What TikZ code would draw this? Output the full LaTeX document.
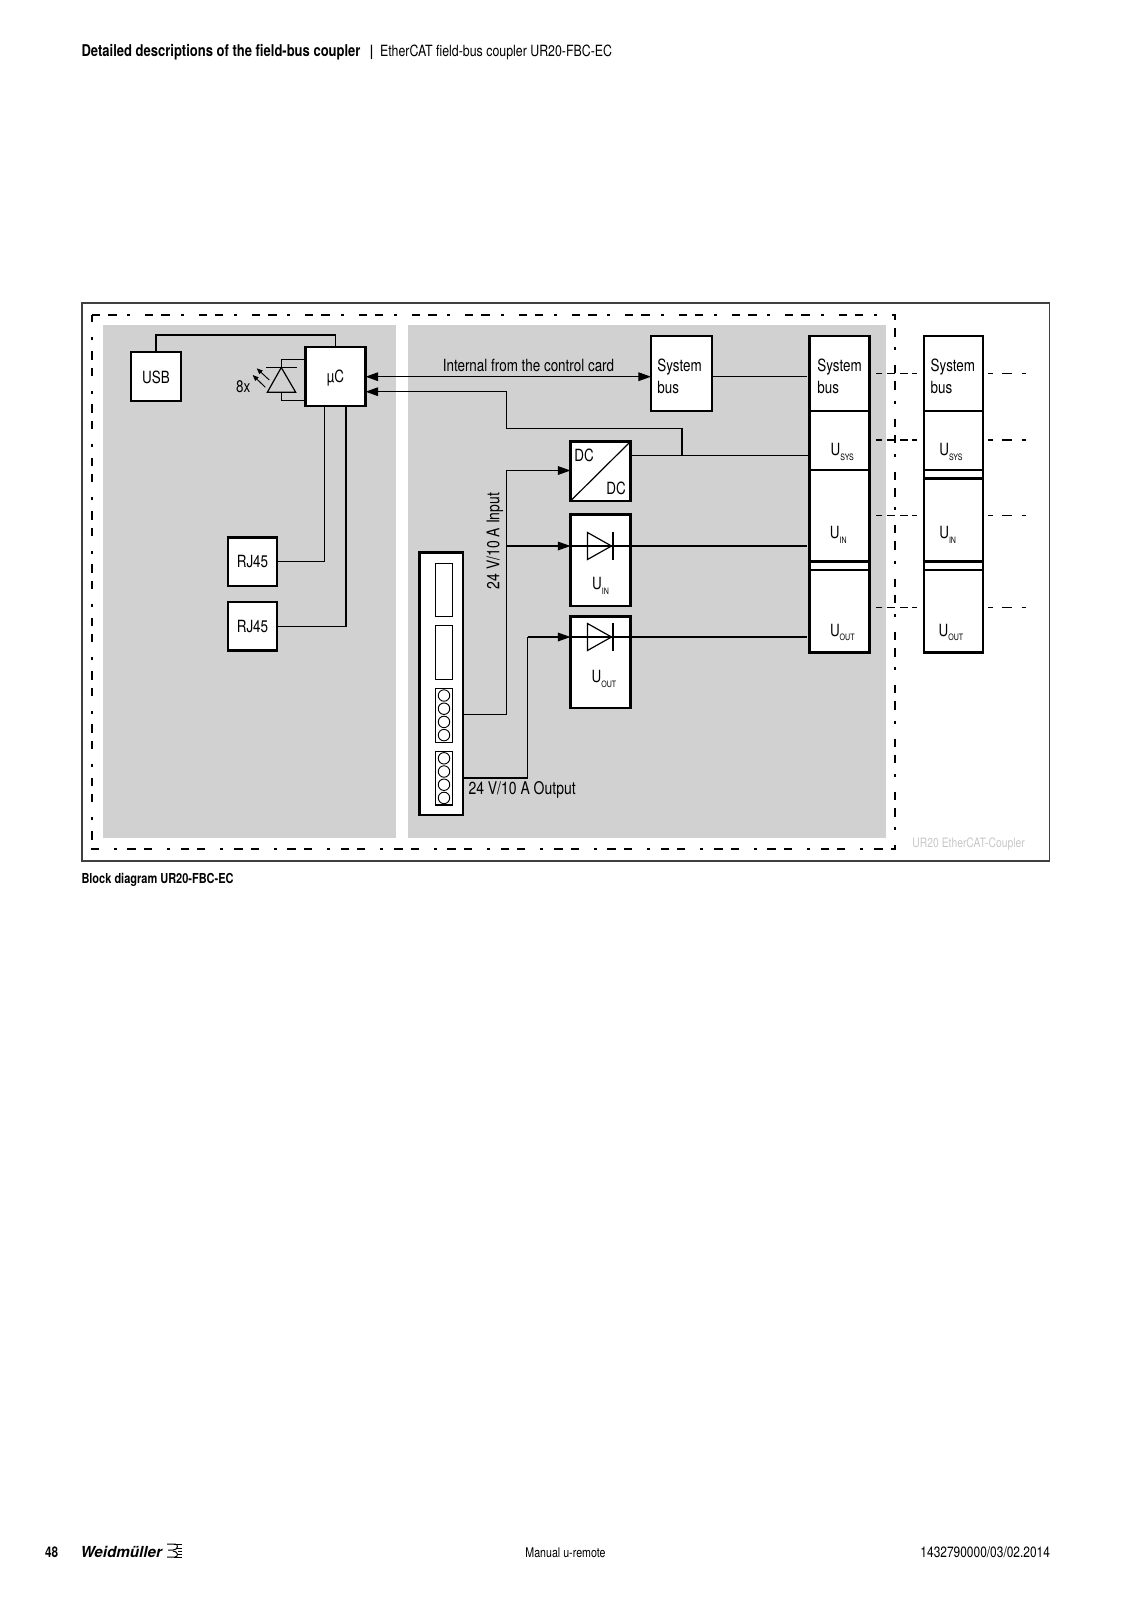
\documentclass[tikz,border=0pt]{standalone}
\usepackage{fontspec}
\setmainfont[FakeStretch=0.8]{TeX Gyre Heros}
\newfontfamily\wmfont{TeX Gyre Heros}
\usetikzlibrary{arrows.meta}
\definecolor{panelgray}{gray}{0.82}
\definecolor{framegray}{gray}{0.25}
\newcommand{\sz}[1]{\fontsize{#1}{#1}\selectfont}
\newcommand{\Usub}[1]{U\raisebox{-3.6pt}{\sz{6.6}#1}}
\tikzset{
 x=0.75pt,y=-0.75pt,
 panel/.style={fill=panelgray,draw=none},
 frameline/.style={draw=framegray,line width=1.2pt},
 dashframe/.style={line width=1.7pt,dash pattern=on 6pt off 6pt on 6.5pt off 8pt on 2.2pt off 11.3pt},
 blk/.style={draw=black,fill=white,line width=1.9pt,inner sep=0pt,outer sep=0pt,font=\sz{12.6}},
 thinblk/.style={draw=black,fill=white,line width=0.8pt,inner sep=0pt,outer sep=0pt},
 pin/.style={draw=black,fill=white,line width=0.7pt,circle,inner sep=0pt,outer sep=0pt,minimum size=8.6pt},
 conn/.style={draw=black,line width=0.9pt},
 arr/.style={conn,-{Triangle[length=9.5pt,width=6.5pt]}},
 arrboth/.style={conn,{Triangle[length=9.5pt,width=6.5pt]}-{Triangle[length=9.5pt,width=6.5pt]}},
 tiny arr/.style={draw=black,line width=0.7pt,-{Triangle[length=4.5pt,width=3.6pt]}},
 ext/.style={draw=black,line width=0.9pt},
 lbl/.style={inner sep=0pt,outer sep=0pt,font=\sz{12.6}},
 llbl/.style={lbl,anchor=west},
}
\newcommand{\bx}[6][blk]{\node[#1,minimum width={(#4-#2)*0.75pt},minimum height={(#5-#3)*0.75pt}] (#6) at ({(#2+#4)/2},{(#3+#5)/2}) {};}
\begin{document}
\begin{tikzpicture}
\useasboundingbox (0,0) rectangle (1132,1600);
% panels
\fill[panel] (103,325) rectangle (396,838);
\fill[panel] (407.5,325) rectangle (886,838);
\draw[frameline] (82,303) rectangle (1049.5,861);
\draw[dashframe] (92,315) -- (895,315) -- (895,849) -- (92,849) -- cycle;

% left side
\bx{131}{352}{181}{401}{usb}
\node[lbl] (usbt) at ([yshift=-1pt]usb.center) {USB};
\bx{305.5}{347}{365.5}{406}{muc}
\node[lbl] (muct) at ([yshift=-1.4pt]muc.center) {µC};
\bx{228}{537.5}{277}{586}{rja}
\node[lbl] (rjat) at (rja) {RJ45};
\bx{228}{602}{277}{650.5}{rjb}
\node[lbl] (rjbt) at (rjb) {RJ45};

\coordinate (usbup) at (200,335);
\draw[conn] (usb.north) |- (usbup) -| (muc.north);
\coordinate (mucA) at (324.3,406);
\coordinate (mucB) at (346,406);
\draw[conn] (rja.east) -| (mucA);
\draw[conn] (rjb.east) -| (mucB);

% LED
\coordinate (ledtop) at (281.3,367.5);
\coordinate (ledbot) at (281.3,392.3);
\coordinate (ledA) at (305.5,359.7);
\coordinate (ledB) at (305.5,400.7);
\draw[conn] (ledtop) |- (ledA);
\draw[conn] (ledbot) |- (ledB);
\draw[conn] (267.3,392.3) -- (295.7,392.3) -- (281.3,367.5) -- cycle;
\draw[conn] (266,367.5) -- (296.7,367.5);
\draw[tiny arr] (269.3,380) -- (256.7,368.3);
\draw[tiny arr] (265.3,387.3) -- (252.7,375);
\node[lbl] (eightx) at (243.3,386.5) {8x};

% right side
\bx{651}{336}{712}{411}{sba}
\node[llbl] (sbat) at (657.3,367.5) {System};
\node[llbl] (sbab) at (657.3,387) {bus};
\bx{570.5}{441.5}{630.5}{501}{dc}
\draw[conn] (dc.south west) -- (dc.north east);
\node[lbl] (dca) at (584,455.5) {DC};
\node[lbl] (dcb) at (616,488.5) {DC};
\bx{570.5}{514.5}{630.5}{606}{din}
\bx{570.5}{616.5}{630.5}{708}{dout}
\node[lbl] (dinl) at (600.5,586) {\Usub{IN}};
\node[lbl] (doutl) at (604,679) {\Usub{OUT}};

% connector strip
\bx{419.5}{552.5}{463}{815}{strip}
\bx[thinblk]{435.7}{563.3}{452.3}{616.7}{slota}
\bx[thinblk]{435.7}{625.7}{452.3}{679.5}{slotb}
\bx[thinblk]{435.7}{688.4}{452.3}{742.2}{slotc}
\bx[thinblk]{435.7}{751.2}{452.3}{805}{slotd}
\foreach \n/\yy in {a/695.5,b/708.7,c/721.9,d/735.1,e/758.3,f/771.5,g/784.7,h/797.9}{
  \node[pin] (pin\n) at (444,\yy) {};
}

% column 1
\bx{809.5}{336}{869.5}{411}{cas}
\bx{809.5}{411}{869.5}{470}{cau}
\bx{809.5}{470}{869.5}{561.5}{cai}
\bx{809.5}{561.5}{869.5}{570}{cag}
\bx{809.5}{570}{869.5}{652.5}{cao}
\node[llbl] (cast) at (817.3,367.5) {System};
\node[llbl] (casb) at (817.3,387) {bus};
\node[lbl] (caul) at (842.3,452) {\Usub{SYS}};
\node[lbl] (cail) at (838.3,535) {\Usub{IN}};
\node[lbl] (caol) at (842.3,632.5) {\Usub{OUT}};
% column 2
\bx{924}{336}{983}{411}{cbs}
\bx{924}{411}{983}{470}{cbu}
\bx{924}{470}{983}{478.5}{cbg}
\bx{924}{478.5}{983}{561.5}{cbi}
\bx{924}{561.5}{983}{570}{cbh}
\bx{924}{570}{983}{652.5}{cbo}
\node[llbl] (cbst) at (930.7,367.5) {System};
\node[llbl] (cbsb) at (930.7,387) {bus};
\node[lbl] (cbul) at (951,452) {\Usub{SYS}};
\node[lbl] (cbil) at (947.7,535) {\Usub{IN}};
\node[lbl] (cbol) at (951,632.5) {\Usub{OUT}};

% connectors
\coordinate (mucI) at (365.5,376.7);
\coordinate (mucJ) at (365.5,391.7);
\coordinate (sbaI) at (651,376.7);
\draw[arrboth] (mucI) -- (sbaI);
\coordinate (bendA) at (506.3,428.7);
\coordinate (bendB) at (682,428.7);
\coordinate (dcJ) at (682,455.5);
\draw[conn,{Triangle[length=9.5pt,width=6.5pt]}-] (mucJ) -| (bendA) -- (bendB) -- (dcJ);
\coordinate (dcE) at (630.5,455.5);
\coordinate (cauW) at (809.5,455.5);
\draw[conn,line width=1.1pt] (dcE) -- (cauW);
\draw[conn] (sba.east |- sbaI) -- (806.5,376.7);
% input bus
\coordinate (stripA) at (463,714.5);
\coordinate (busTop) at (506.3,470.5);
\coordinate (dcW) at (570.5,470.5);
\coordinate (dinW) at (570.5,546);
\coordinate (busMid) at (506.3,546);
\draw[conn] (stripA) -| (busTop);
\draw[arr] (busTop) -- (dcW);
\draw[arr] (busMid) -- (dinW);
\coordinate (caiW) at (806.5,546);
\draw[conn] (dinW) -- (caiW);
\coordinate (stripB) at (463,778);
\coordinate (busOut) at (527.7,637);
\coordinate (doutW) at (570.5,637);
\coordinate (caoW) at (806.5,637);
\draw[conn] (stripB) -| (busOut);
\draw[arr] (busOut) -- (doutW);
\draw[conn] (doutW) -- (caoW);
% diodes
\foreach \yy in {546,637}{
  \draw[conn,line join=miter] (587.5,\yy-13.5) -- (611.5,\yy) -- (587.5,\yy+13.5) -- cycle;
  \draw[conn] (613,\yy-14) -- (613,\yy+14);
}
\node[lbl] (inct) at (528.5,365.5) {Internal from the control card};
\node[lbl,rotate=90,font=\sz{13.1}] (inlab) at (495,541) {24 V/10 A Input};
\node[llbl,font=\sz{13.1}] (outlab) at (468.5,790) {24 V/10 A Output};

% dashed extensions
\foreach \yy/\nm in {373.3/a,440/b,515.7/c,607.3/d}{
  \coordinate (dl\nm) at (876,\yy);
  \coordinate (dm\nm) at (916.7,\yy);
  \coordinate (dr\nm) at (988.3,\yy);
  \coordinate (ds\nm) at (1026,\yy);
  \draw[ext,dash pattern=on 4.2pt off 3.8pt on 6.2pt off 3.8pt on 6.2pt off 2.5pt on 3.8pt off 9pt] (dl\nm) -- (dm\nm);
  \draw[ext,dash pattern=on 3.8pt off 6.2pt on 7.5pt off 7.5pt on 3.3pt off 9pt] (dr\nm) -- (ds\nm);
}

\node[lbl,text=black!22,font=\sz{9.7}] (mark) at (968.6,844.5) {UR20 EtherCAT-Coupler};

% page texts
\node[llbl,font=\sz{12.2}\bfseries] (hdra) at (81.5,52) {Detailed descriptions of the field-bus coupler};
\node[lbl,font=\sz{11.6}\bfseries] (hdrb) at (371.5,52) {|};
\node[llbl,font=\sz{11.6}] (hdrc) at (380,52) {EtherCAT field-bus coupler UR20-FBC-EC};
\node[llbl,font=\sz{10.3}\bfseries] (capt) at (81.5,880) {Block diagram UR20-FBC-EC};
\node[llbl,font=\sz{11}\bfseries] (pnum) at (45,1552.5) {48};
\node[llbl,font=\wmfont\sz{11.4}\bfseries\itshape] (brand) at (80.5,1551.5) {Weidmüller};
\node[lbl,font=\sz{10}] (manual) at (565.5,1552.5) {Manual u-remote};
\node[lbl,anchor=east,font=\sz{11.2}] (docno) at (1050,1552.5) {1432790000/03/02.2014};
% logo
\draw[line width=0.75pt] (167,1544) -- (175,1544) .. controls (179,1544) and (178,1550) .. (173,1550) -- (168,1550);
\draw[line width=0.75pt] (167,1557) -- (175,1557) .. controls (179,1557) and (178,1551) .. (173,1551);
\draw[line width=0.75pt] (174,1544) -- (182,1544) (177,1548) -- (182,1548) (178,1551) -- (182,1551) (177,1554) -- (182,1554) (174,1557) -- (182,1557);
\end{tikzpicture}
\end{document}
